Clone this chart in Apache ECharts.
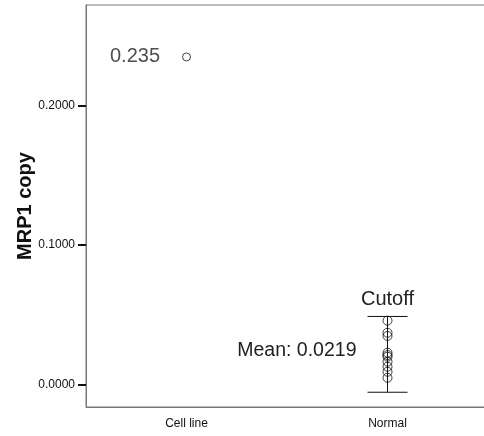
<!DOCTYPE html>
<html>
<head>
<meta charset="utf-8">
<script src="https://cdn.jsdelivr.net/npm/echarts@6/dist/echarts.min.js"></script>
<style>
  html, body { margin: 0; padding: 0; background: #fff; }
  #chart { width: 484px; height: 436px; }
</style>
</head>
<body>
<div id="chart"></div>
<script>
// data
const categories = ['Cell line', 'Normal'];
const cellLineValues = [0.235];
const normalValues = [0.0457, 0.0370, 0.0347, 0.0227, 0.0210, 0.0198, 0.0162, 0.0126, 0.0090, 0.0047];
const meanValue = 0.0219;
const cutoffLow = -0.0057;
const cutoffHigh = 0.0487;
const yTickValues = [0, 0.1, 0.2];
const pointLabel = '0.235';
const cutoffLabel = 'Cutoff';
const meanLabel = 'Mean: 0.0219';

const font = 'Liberation Sans, Arial, sans-serif';
const chart = echarts.init(document.getElementById('chart'));

const pointStyle = {
  color: 'rgba(0,0,0,0)',
  borderColor: '#111',
  borderWidth: 1
};

// error bar + texts for the Normal group
function renderCutoff(params, api) {
  const top = api.coord([api.value(0), api.value(2)]);
  const bottom = api.coord([api.value(0), api.value(1)]);
  const mid = api.coord([api.value(0), api.value(3)]);
  const lineStyle = { stroke: '#111', lineWidth: 1 };
  return {
    type: 'group',
    children: [
      { type: 'line', shape: { x1: top[0], y1: top[1], x2: bottom[0], y2: bottom[1] }, style: lineStyle },
      { type: 'line', shape: { x1: top[0] - 20, y1: top[1], x2: top[0] + 20, y2: top[1] }, style: lineStyle },
      { type: 'line', shape: { x1: bottom[0] - 20, y1: bottom[1], x2: bottom[0] + 20, y2: bottom[1] }, style: lineStyle },
      {
        type: 'text',
        x: top[0], y: top[1] - 17,
        style: { text: cutoffLabel, font: '20px ' + font, fill: '#222', align: 'center', verticalAlign: 'middle' }
      },
      {
        type: 'text',
        x: mid[0] - 31, y: mid[1] - 3,
        style: { text: meanLabel, font: '19.5px ' + font, fill: '#222', align: 'right', verticalAlign: 'middle' }
      }
    ]
  };
}

const option = {
  animation: false,
  backgroundColor: '#fff',
  grid: {
    left: 86, width: 402, top: 5, bottom: 29,
    outerBoundsMode: 'none',
    containLabel: false,
    show: true, borderColor: '#777', borderWidth: 1
  },
  xAxis: {
    type: 'category',
    data: categories,
    boundaryGap: true,
    axisLine: { onZero: false, lineStyle: { color: '#777', width: 1 } },
    axisTick: { alignWithLabel: true, length: 6, lineStyle: { color: '#111', width: 2 } },
    axisLabel: { color: '#111', fontSize: 12, fontFamily: font, margin: 11 }
  },
  yAxis: {
    type: 'value',
    min: -0.0163,
    max: 0.2723,
    name: 'MRP1 copy',
    nameLocation: 'middle',
    nameRotate: 90,
    nameGap: 51,
    nameMoveOverlap: false,
    nameTextStyle: { fontSize: 20, fontWeight: 'bold', fontFamily: font, color: '#111' },
    splitLine: { show: false },
    axisLine: { show: true, lineStyle: { color: '#777', width: 1 } },
    axisTick: { show: true, length: 8, customValues: yTickValues, lineStyle: { color: '#111', width: 2 } },
    axisLabel: {
      customValues: yTickValues,
      color: '#111', fontSize: 12, fontFamily: font, margin: 11,
      formatter: v => v.toFixed(4)
    }
  },
  series: [
    {
      type: 'custom',
      renderItem: renderCutoff,
      data: [[1, cutoffLow, cutoffHigh, meanValue]],
      z: 1
    },
    {
      type: 'scatter',
      symbol: 'circle',
      symbolSize: 8,
      itemStyle: pointStyle,
      label: {
        show: true,
        position: 'left',
        distance: 22,
        formatter: pointLabel,
        fontSize: 20,
        fontFamily: font,
        color: '#222'
      },
      data: cellLineValues.map(v => [0, v]),
      z: 2
    },
    {
      type: 'scatter',
      symbol: 'circle',
      symbolSize: 9,
      itemStyle: pointStyle,
      data: normalValues.map(v => [1, v]),
      z: 2
    }
  ]
};

chart.setOption(option);
</script>
</body>
</html>
